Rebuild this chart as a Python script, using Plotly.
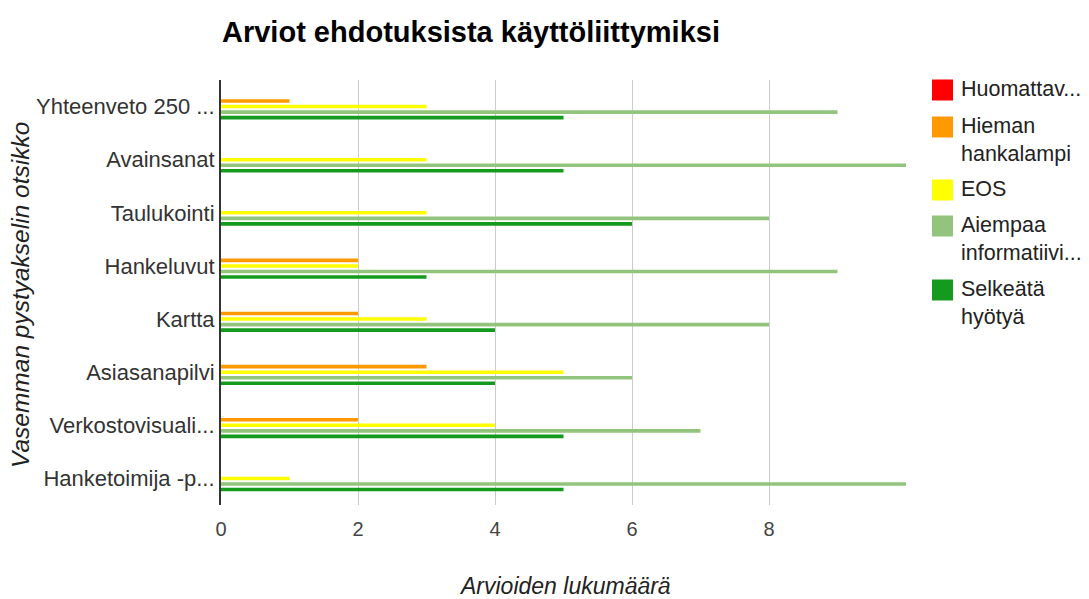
import plotly.graph_objects as go

categories = ["Yhteenveto 250 ...", "Avainsanat", "Taulukointi", "Hankeluvut",
              "Kartta", "Asiasanapilvi", "Verkostovisuali...", "Hanketoimija -p..."]
series_names = ["Huomattav...", "Hieman<br>hankalampi", "EOS",
                "Aiempaa<br>informatiivi...", "Selkeätä<br>hyötyä"]
huomattava = [0, 0, 0, 0, 0, 0, 0, 0]
hieman = [1, 0, 0, 2, 2, 3, 2, 0]
eos = [3, 3, 3, 2, 3, 5, 4, 1]
aiempaa = [9, 10, 8, 9, 8, 6, 7, 10]
selkea = [5, 5, 6, 3, 4, 4, 5, 5]
values = [huomattava, hieman, eos, aiempaa, selkea]
colors = ["#ff0000", "#ff9900", "#ffff00", "#93c47d", "#149a1c"]
x_ticks = [0, 2, 4, 6, 8]

FONT = "Liberation Sans, Arial, sans-serif"
OFF = 8  # page body margin
W, H = 1089 - OFF, 599 - OFF
L, T = 221 - OFF, 80 - OFF
R = W - (906 - OFF)
B = H - (505 - OFF)
PW, PH = W - L - R, H - T - B


def px(x):  # viewport x -> paper
    return (x - OFF - L) / PW


def py(y):  # viewport y -> paper
    return (H - B - (y - OFF)) / PH


fig = go.Figure()
for name, vals, col in zip(series_names, values, colors):
    fig.add_trace(go.Bar(y=categories, x=vals, name=name, orientation="h",
                         marker=dict(color=col, line=dict(width=0)), showlegend=False))

# manual legend
leg_y = [90, 127, 190, 226, 290]
for name, col, yc in zip(series_names, colors, leg_y):
    fig.add_shape(type="rect", xref="paper", yref="paper",
                  x0=px(932), x1=px(953), y0=py(yc + 10.5), y1=py(yc - 10.5),
                  fillcolor=col, line=dict(width=0))
    fig.add_annotation(xref="paper", yref="paper", x=px(959),
                       y=py(yc - 15), xanchor="left", yanchor="top",
                       text=name, showarrow=False, align="left",
                       font=dict(family=FONT, size=21.5, color="#222222"))

# axis titles
fig.add_annotation(xref="paper", yref="paper", x=px(565), y=py(586),
                   xanchor="center", yanchor="middle", showarrow=False,
                   text="<i>Arvioiden lukumäärä</i>",
                   font=dict(family=FONT, size=23, color="#222222"))
fig.add_annotation(xref="paper", yref="paper", x=px(20), y=py(295),
                   xanchor="center", yanchor="middle", showarrow=False, textangle=-90,
                   text="<i>Vasemman pystyakselin otsikko</i>",
                   font=dict(family=FONT, size=24.5, color="#222222"))

fig.update_layout(
    width=W, height=H,
    margin=dict(l=L, r=R, t=T, b=B, autoexpand=False),
    paper_bgcolor="white", plot_bgcolor="white",
    barmode="group", bargap=0.48, bargroupgap=0.35,
    title=dict(text="<b>Arviot ehdotuksista käyttöliittymiksi</b>", x=(471 - OFF) / W,
               xanchor="center", y=1 - (32 - OFF) / H, yanchor="middle",
               font=dict(family=FONT, size=29, color="#000000")),
    font=dict(family=FONT, size=20, color="#222222"),
)
fig.update_xaxes(range=[0, 10], tickvals=x_ticks, showgrid=True, gridcolor="#cccccc", gridwidth=1,
                 zeroline=False, showline=False, ticks="outside", ticklen=6,
                 tickcolor="rgba(0,0,0,0)", automargin=False,
                 tickfont=dict(size=20, color="#444444"))
fig.update_yaxes(autorange="reversed", showline=True, linecolor="#333333", linewidth=2,
                 ticks="", automargin=False,
                 tickfont=dict(size=22, color="#333333"))

fig.write_html("out.html")
